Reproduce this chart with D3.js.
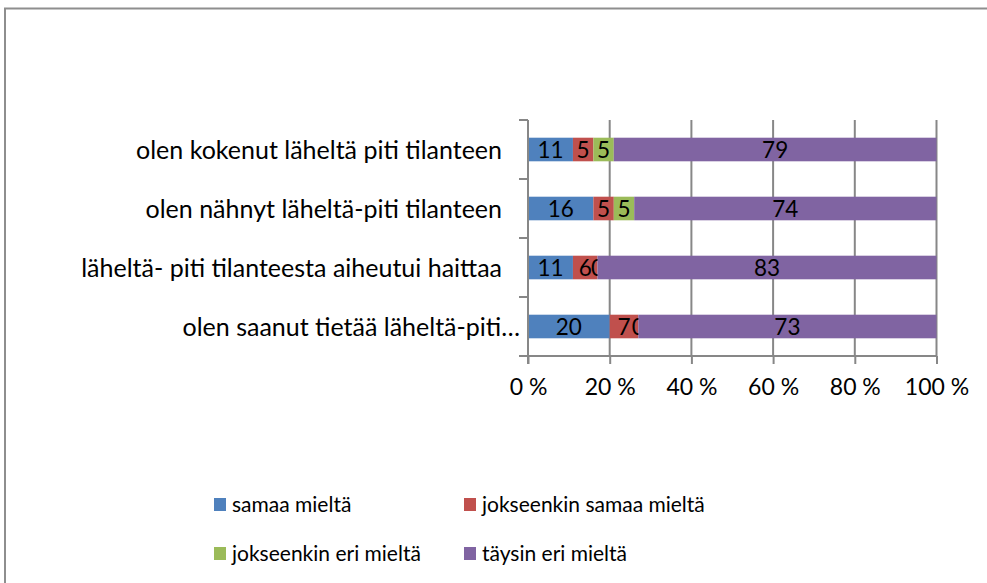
<!DOCTYPE html>
<html>
<head>
<meta charset="utf-8">
<script src="https://cdn.jsdelivr.net/npm/d3@7"></script>
<style>
  body { margin: 0; background: #fff; }
  svg text { font-family: Lato, "Open Sans", sans-serif; fill: #000; }
</style>
</head>
<body>
<div id="chart"></div>
<script>
// categories, top to bottom
let categories = [
    "olen kokenut läheltä piti tilanteen",
    "olen nähnyt läheltä-piti tilanteen",
    "läheltä- piti tilanteesta aiheutui haittaa",
    "olen saanut tietää läheltä-piti…"
];
let seriesNames = ["samaa mieltä", "jokseenkin samaa mieltä", "jokseenkin eri mieltä", "täysin eri mieltä"];
let samaa = [11, 16, 11, 20];
let jokseenkinSamaa = [5, 5, 6, 7];
let jokseenkinEri = [5, 5, 0, 0];
let taysinEri = [79, 74, 83, 73];
let tickValues = [0, 20, 40, 60, 80, 100];

let colors = ["#4F81BD", "#C0504D", "#9BBB59", "#8064A2"];
let keys = ["s0", "s1", "s2", "s3"];

let dataset = categories.map(function(c, i) {
    return {cat: c, s0: samaa[i], s1: jokseenkinSamaa[i], s2: jokseenkinEri[i], s3: taysinEri[i]};
});

let W = 987, H = 583;
let margin = {top: 120, left: 528, right: 50.5, bottom: 227};
let width = W - margin.left - margin.right;
let height = H - margin.top - margin.bottom;

let svg = d3.select("#chart").append("svg")
    .attr("width", W)
    .attr("height", H);

// outer frame (runs off the right and bottom edge)
svg.append("rect")
    .attr("x", 5).attr("y", 8.5)
    .attr("width", W + 20).attr("height", H + 20)
    .attr("fill", "none")
    .attr("stroke", "#8e8e8e")
    .attr("stroke-width", 2);

let g = svg.append("g")
    .attr("transform", "translate(" + margin.left + "," + margin.top + ")");

let x = d3.scaleLinear().domain([0, 100]).range([0, width]);
let y = d3.scaleBand().domain(categories).range([0, height]).paddingInner(0.6).paddingOuter(0.3);
let z = d3.scaleOrdinal().domain(keys).range(colors);

let axisColor = "#878787";

// vertical gridlines
g.append("g")
    .selectAll("line")
    .data(tickValues.slice(1))
    .enter().append("line")
    .attr("x1", function(d) { return x(d); })
    .attr("x2", function(d) { return x(d); })
    .attr("y1", 0)
    .attr("y2", height)
    .attr("stroke", axisColor)
    .attr("stroke-width", 2);

// bars
let stacked = d3.stack().keys(keys)(dataset);
let layer = g.append("g")
    .selectAll("g")
    .data(stacked)
    .enter().append("g")
    .attr("fill", function(d) { return z(d.key); });

layer.selectAll("rect")
    .data(function(d) { return d; })
    .enter().append("rect")
    .attr("x", function(d) { return x(d[0]); })
    .attr("y", function(d) { return y(d.data.cat); })
    .attr("width", function(d) { return x(d[1]) - x(d[0]); })
    .attr("height", y.bandwidth());

// data labels
layer.selectAll("text")
    .data(function(d) { return d.map(function(p) { return {p: p, key: d.key}; }); })
    .enter().append("text")
    .attr("x", function(d) { return x((d.p[0] + d.p[1]) / 2); })
    .attr("y", function(d) { return y(d.p.data.cat) + y.bandwidth() / 2; })
    .attr("dy", "0.36em")
    .attr("text-anchor", "middle")
    .style("font-size", "22.5px")
    .text(function(d) { return d.p.data[d.key]; });

// bottom axis
let xAxis = g.append("g")
    .attr("transform", "translate(0," + height + ")")
    .call(d3.axisBottom(x).tickValues(tickValues).tickSize(8).tickPadding(15)
        .tickFormat(function(d) { return d + " %"; }));
xAxis.select(".domain").remove();
xAxis.selectAll(".tick line").attr("stroke", axisColor).attr("stroke-width", 2);
xAxis.selectAll(".tick text").style("font-size", "23px").attr("fill", "#000");
xAxis.append("line")
    .attr("x1", -9).attr("x2", width)
    .attr("y1", 0).attr("y2", 0)
    .attr("stroke", axisColor).attr("stroke-width", 2);

// left axis, ticks at category boundaries
let yAxis = g.append("g");
yAxis.append("line")
    .attr("x1", 0).attr("x2", 0)
    .attr("y1", 0).attr("y2", height + 8)
    .attr("stroke", axisColor).attr("stroke-width", 2);
yAxis.selectAll(".bound")
    .data(d3.range(categories.length))
    .enter().append("line")
    .attr("class", "bound")
    .attr("x1", -9).attr("x2", 0)
    .attr("y1", function(i) { return i * height / categories.length; })
    .attr("y2", function(i) { return i * height / categories.length; })
    .attr("stroke", axisColor).attr("stroke-width", 2);

yAxis.selectAll(".cat")
    .data(categories)
    .enter().append("text")
    .attr("class", "cat")
    .attr("x", function(d) { return d.endsWith("…") ? -8 : -26; })
    .attr("y", function(d) { return y(d) + y.bandwidth() / 2; })
    .attr("dy", "0.36em")
    .attr("text-anchor", "end")
    .style("font-size", "25px")
    .text(function(d) { return d; });

// legend
let legend = svg.append("g")
    .selectAll("g")
    .data(seriesNames)
    .enter().append("g")
    .attr("transform", function(d, i) {
        return "translate(" + (214 + (i % 2) * 250) + "," + (498 + Math.floor(i / 2) * 49) + ")";
    });

legend.append("rect")
    .attr("width", 12)
    .attr("height", 13)
    .attr("fill", function(d, i) { return colors[i]; });

legend.append("text")
    .attr("x", 18)
    .attr("y", 6.5)
    .attr("dy", "0.36em")
    .style("font-size", "21px")
    .text(function(d) { return d; });
</script>
</body>
</html>
